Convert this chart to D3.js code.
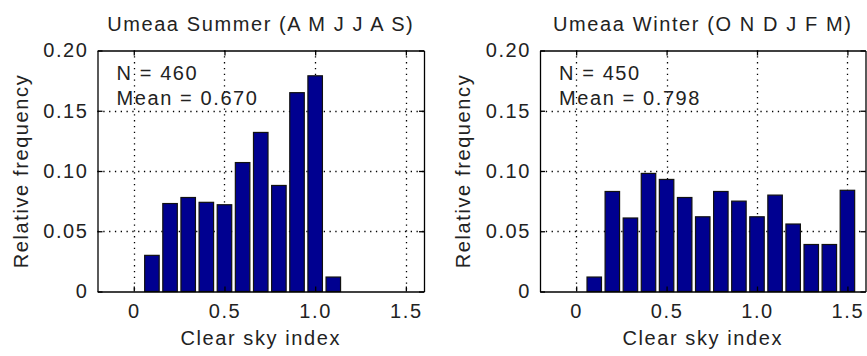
<!DOCTYPE html>
<html>
<head>
<meta charset="utf-8">
<script src="https://cdn.jsdelivr.net/npm/d3@7"></script>
<style>
  body { margin: 0; background: #fff; }
  text { font-family: "Liberation Sans", Arial, sans-serif; fill: #222; }
</style>
</head>
<body>
<script>
// bin centres and relative frequencies
const summerBins = [0.1, 0.2, 0.3, 0.4, 0.5, 0.6, 0.7, 0.8, 0.9, 1.0, 1.1];
const summerFreq = [0.030, 0.073, 0.078, 0.074, 0.072, 0.107, 0.132, 0.088, 0.165, 0.179, 0.012];
const winterBins = [0.1, 0.2, 0.3, 0.4, 0.5, 0.6, 0.7, 0.8, 0.9, 1.0, 1.1, 1.2, 1.3, 1.4, 1.5];
const winterFreq = [0.012, 0.083, 0.061, 0.098, 0.093, 0.078, 0.062, 0.083, 0.075, 0.062, 0.080, 0.056, 0.039, 0.039, 0.084];

const xTicks = [0, 0.5, 1.0, 1.5];
const xTickLabels = ["0", "0.5", "1.0", "1.5"];
const yTicks = [0, 0.05, 0.10, 0.15, 0.20];
const yTickLabels = ["0", "0.05", "0.10", "0.15", "0.20"];

const titles = ["Umeaa Summer (A M J J A S)", "Umeaa Winter (O N D J F M)"];
const notes = [["N = 460", "Mean = 0.670"], ["N = 450", "Mean = 0.798"]];

const width = 867;
const height = 356;
const fs = 20;
const ls = 1.6;

const svg = d3
  .select("body")
  .append("svg")
  .attr("width", width)
  .attr("height", height);

function drawPanel(left, right, bins, freq, title, note) {
  const top = 50.5;
  const bottom = 291.5;
  const x = d3.scaleLinear().domain([-0.2, 1.6]).range([left, right]);
  const y = d3.scaleLinear().domain([0, 0.2]).range([bottom, top]);
  const g = svg.append("g");

  // dotted grid
  g.append("g")
    .selectAll("line")
    .data(xTicks)
    .enter()
    .append("line")
    .attr("x1", (d) => Math.round(x(d)) + 0.5)
    .attr("x2", (d) => Math.round(x(d)) + 0.5)
    .attr("y1", top)
    .attr("y2", bottom)
    .attr("stroke", "#000")
    .attr("stroke-width", 1.3)
    .attr("stroke-dasharray", "1.3,4.5");
  g.append("g")
    .selectAll("line")
    .data(yTicks.slice(1, -1))
    .enter()
    .append("line")
    .attr("x1", left)
    .attr("x2", right)
    .attr("y1", (d) => Math.round(y(d)) + 0.5)
    .attr("y2", (d) => Math.round(y(d)) + 0.5)
    .attr("stroke", "#000")
    .attr("stroke-width", 1.3)
    .attr("stroke-dasharray", "1.3,4.5");

  // bars
  const bw = 0.08;
  g.append("g")
    .selectAll("rect")
    .data(bins)
    .enter()
    .append("rect")
    .attr("x", (d) => x(d - bw / 2))
    .attr("y", (d, i) => y(freq[i]))
    .attr("width", x(bw) - x(0))
    .attr("height", (d, i) => y(0) - y(freq[i]))
    .attr("fill", "#000090")
    .attr("stroke", "#111")
    .attr("stroke-width", 1.2);

  // axes: ticks inward on all sides
  const fmtX = (d) => xTickLabels[xTicks.indexOf(d)];
  const fmtY = (d) => yTickLabels[yTicks.indexOf(d)];
  const ax = [
    [d3.axisBottom(x).tickValues(xTicks).tickFormat(fmtX), bottom, 0, 12],
    [d3.axisTop(x).tickValues(xTicks).tickFormat(""), top, 0, 12],
    [d3.axisLeft(y).tickValues(yTicks).tickFormat(fmtY), 0, left, 9],
    [d3.axisRight(y).tickValues(yTicks).tickFormat(""), 0, right, 9],
  ];
  ax.forEach(([a, ty, tx, pad]) => {
    const ag = g
      .append("g")
      .attr("transform", `translate(${tx},${ty})`)
      .call(a.tickSizeInner(-5).tickSizeOuter(0).tickPadding(pad));
    ag.select(".domain").attr("stroke", "#000").attr("stroke-width", 1.3);
    ag.selectAll(".tick line").attr("stroke", "#000").attr("stroke-width", 1.3);
    ag.selectAll("text")
      .attr("font-size", fs)
      .attr("letter-spacing", ls)
      .attr("fill", "#222")
      .style("font-family", "'Liberation Sans', Arial, sans-serif");
  });

  // titles and labels
  g.append("text")
    .attr("x", (left + right) / 2)
    .attr("y", 31)
    .attr("text-anchor", "middle")
    .attr("font-size", fs)
    .attr("letter-spacing", ls)
    .text(title);
  g.append("text")
    .attr("x", (left + right) / 2)
    .attr("y", 345)
    .attr("text-anchor", "middle")
    .attr("font-size", fs)
    .attr("letter-spacing", ls)
    .text("Clear sky index");
  g.append("text")
    .attr("transform", `translate(${left - 70},${(top + bottom) / 2}) rotate(-90)`)
    .attr("text-anchor", "middle")
    .attr("font-size", fs)
    .attr("letter-spacing", ls)
    .text("Relative frequency");

  g.append("g")
    .selectAll("text")
    .data(note)
    .enter()
    .append("text")
    .attr("x", left + 19)
    .attr("y", (d, i) => 80 + i * 25)
    .attr("font-size", fs)
    .attr("letter-spacing", ls)
    .text((d) => d);
}

drawPanel(97.5, 424, summerBins, summerFreq, titles[0], notes[0]);
drawPanel(540, 865.5, winterBins, winterFreq, titles[1], notes[1]);
</script>
</body>
</html>
